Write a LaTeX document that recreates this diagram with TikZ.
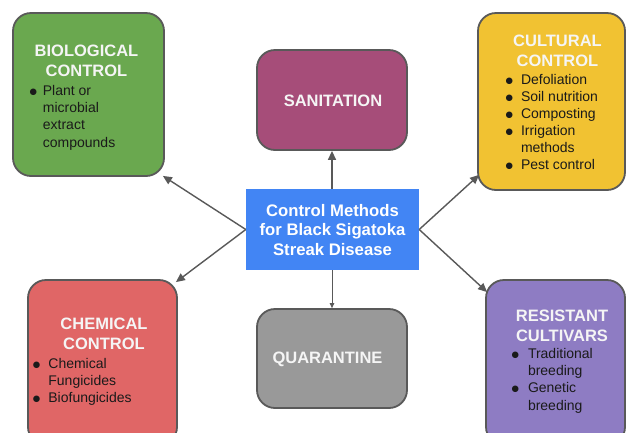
\documentclass[tikz,border=0pt]{standalone}
\usepackage{fontspec}
\setmainfont{Liberation Sans}
\newfontfamily\dejavu{DejaVu Sans}
\usetikzlibrary{arrows.meta,calc}
\definecolor{bgreen}{HTML}{6AA84F}
\definecolor{sanc}{HTML}{A64D79}
\definecolor{cultc}{HTML}{F1C232}
\definecolor{centc}{HTML}{4285F4}
\definecolor{chemc}{HTML}{E06666}
\definecolor{quarc}{HTML}{999999}
\definecolor{resc}{HTML}{8E7CC3}
\definecolor{edgec}{HTML}{595959}
\definecolor{titlec}{HTML}{F5F5F5}
\definecolor{bodyc}{HTML}{1A1A1A}
\newcommand\bul[1]{\makebox[#1][l]{\hspace*{-0.5pt}\raisebox{1pt}{\dejavu\fontsize{8.5}{0}\selectfont ●}}}
\begin{document}
\begin{tikzpicture}[x=1pt,y=-1pt,
  box/.style={draw=edgec,line width=1.8pt,rounded corners=18pt,inner sep=0pt},
  ttl/.style={font=\bfseries\fontsize{16.5}{19.5}\selectfont,text=titlec,align=center,inner sep=0pt,anchor=north},
  body/.style={font=\fontsize{14}{17.3}\selectfont,text=bodyc,align=left,inner sep=0pt,anchor=north west},
  arr/.style={draw=edgec,line width=1.4pt,-{Triangle[length=9pt,width=8pt]}},
  arrthin/.style={draw=edgec,line width=0.8pt,-{Triangle[length=5pt,width=4.5pt]}}]
\useasboundingbox (0,0) rectangle (627,432);
\clip (0,0) rectangle (627,432);
\fill[white] (0,0) rectangle (627,432);

% boxes
\node[box,fill=bgreen,minimum width=151pt,minimum height=163pt] (bio) at (88.5,94.5) {};
\node[box,fill=sanc,minimum width=150pt,minimum height=100pt] (san) at (332,100) {};
\node[box,fill=cultc,minimum width=147pt,minimum height=177pt] (cult) at (551.5,101.5) {};
\node[fill=centc,inner sep=0pt,minimum width=173pt,minimum height=81pt] (c) at (332.5,229.5) {};
\node[box,fill=chemc,minimum width=149pt,minimum height=165pt] (chem) at (102.5,362.5) {};
\node[box,fill=quarc,minimum width=150pt,minimum height=99pt] (quar) at (332,358.5) {};
\node[box,fill=resc,minimum width=139pt,minimum height=165pt] (res) at (555.5,362.5) {};

% texts
\node[ttl] (bioT) at (86.5,45) {BIOLOGICAL\\CONTROL};
\node[body] (bioB) at (30,85) {\bul{12.7pt}Plant or\\\hspace*{12.7pt}microbial\\\hspace*{12.7pt}extract\\\hspace*{12.7pt}compounds};

\node[ttl,anchor=center] (sanT) at (333,101) {SANITATION};

\node[ttl] (cultT) at (557.5,35) {CULTURAL\\CONTROL};
\node[body,font=\fontsize{14}{17.1}\selectfont] (cultB) at (505.8,74) {\bul{15pt}Defoliation\\\bul{15pt}Soil nutrition\\\bul{15pt}Composting\\\bul{15pt}Irrigation\\\hspace*{15pt}methods\\\bul{15pt}Pest control};

\node[ttl,text=white,font=\bfseries\fontsize{16.7}{19.5}\selectfont] (cT) at (332.5,204) {Control Methods\\for Black Sigatoka\\Streak Disease};

\node[ttl] (chemT) at (104,318) {CHEMICAL\\CONTROL};
\node[body] (chemB) at (33.2,358) {\bul{15pt}Chemical\\\hspace*{15pt}Fungicides\\\bul{15pt}Biofungicides};

\node[ttl,anchor=center] (quarT) at (327.5,359.5) {QUARANTINE};

\node[ttl] (resT) at (562,310) {RESISTANT\\CULTIVARS};
\node[body] (resB) at (511.8,348) {\bul{16pt}Traditional\\\hspace*{16pt}breeding\\\bul{16pt}Genetic\\\hspace*{16pt}breeding};

% connectors
\draw[arr] (c.west) -- ($(bio.south east)+(-2,-1)$);
\draw[arr] (c.west) -- ($(chem.north east)+(-2,3)$);
\draw[arr] (c.east) -- ($(cult.south west)+(2,-16)$);
\draw[arr] (c.east) -- ($(res.north west)+(2,13)$);
\draw[arr] (san.south |- c.north) -- (san.south);
\draw[arrthin] (quar.north |- c.south) -- (quar.north);
\end{tikzpicture}
\end{document}
